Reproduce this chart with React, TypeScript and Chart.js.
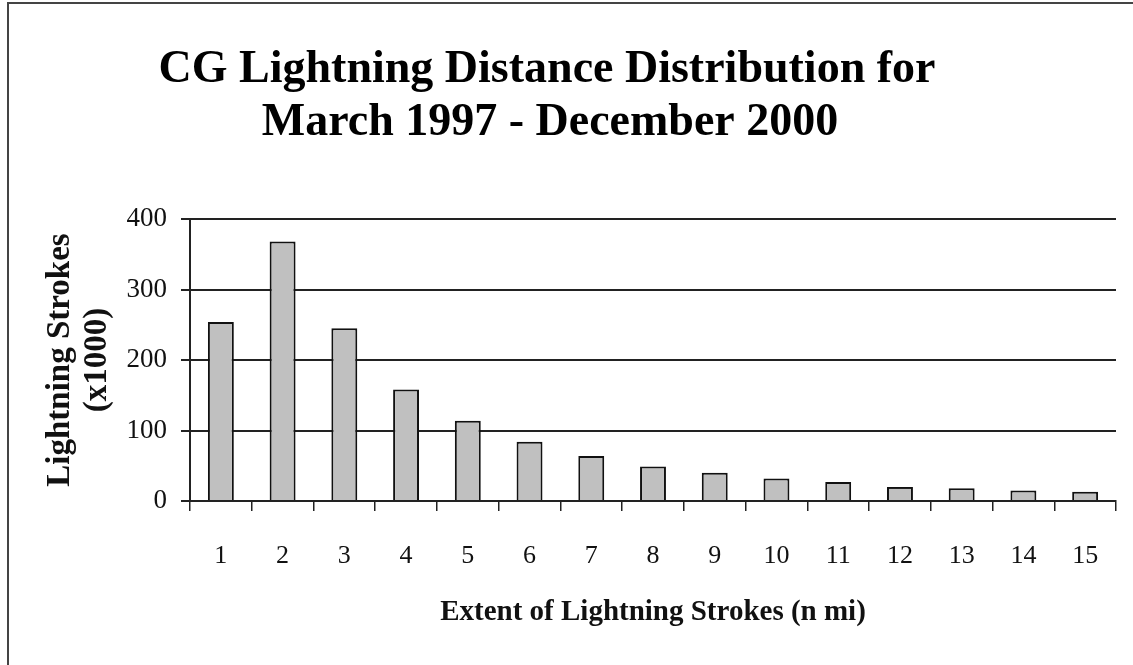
import React, { useEffect, useRef } from "react";
import { Chart, registerables } from "chart.js";

Chart.register(...registerables);

const titleLines = ["CG Lightning Distance Distribution for", "March 1997 - December 2000"];
const categories = ["1", "2", "3", "4", "5", "6", "7", "8", "9", "10", "11", "12", "13", "14", "15"];
const strokes = [254, 368, 245, 158, 114, 84, 64, 49, 40, 32, 27, 20, 18, 15, 13];
const yTitle = ["Lightning Strokes", "(x1000)"];
const xTitle = "Extent of Lightning Strokes (n mi)";

const SERIF = '"Liberation Serif", "Times New Roman", serif';

const titlePlugin = {
  id: "customTitle",
  afterDraw(chart: any) {
    const ctx = chart.ctx;
    ctx.save();
    ctx.fillStyle = "#000";
    ctx.font = `bold 46px ${SERIF}`;
    ctx.textAlign = "center";
    ctx.textBaseline = "alphabetic";
    ctx.fillText(titleLines[0], 547, 82);
    ctx.fillText(titleLines[1], 550, 135);
    ctx.restore();
  },
};

export default function App() {
  const ref = useRef<HTMLCanvasElement | null>(null);
  useEffect(() => {
    if (!ref.current) return;
    const chart = new Chart(ref.current, {
      type: "bar",
      data: {
        labels: categories,
        datasets: [
          {
            data: strokes,
            backgroundColor: "#c0c0c0",
            borderColor: "#111",
            borderWidth: 2,
            barPercentage: 0.42,
            categoryPercentage: 1,
          },
        ],
      },
      options: {
        responsive: false,
        animation: false,
        devicePixelRatio: 1,
        layout: { padding: { left: 0, right: 17, top: 219, bottom: 0 } },
        plugins: {
          legend: { display: false },
          title: { display: false },
          tooltip: { enabled: false },
        },
        scales: {
          x: {
            offset: true,
            afterFit: (s: any) => {
              s.height = 164;
            },
            grid: {
              offset: true,
              drawOnChartArea: false,
              drawTicks: true,
              tickLength: 10,
              color: "#222",
              lineWidth: 1.5,
            },
            border: { display: true, color: "#222", width: 2 },
            ticks: {
              color: "#111",
              font: { family: SERIF, size: 26 },
              padding: 30,
              maxRotation: 0,
              autoSkip: false,
            },
            title: {
              display: true,
              text: xTitle,
              color: "#111",
              font: { family: SERIF, size: 29, weight: "bold" },
              padding: { top: 0, bottom: 35 },
            },
          },
          y: {
            min: 0,
            max: 400,
            afterFit: (s: any) => {
              s.width = 190;
            },
            grid: {
              drawOnChartArea: true,
              drawTicks: true,
              tickLength: 9,
              color: "#222",
              lineWidth: 2,
            },
            border: { display: true, color: "#222", width: 2 },
            ticks: {
              stepSize: 100,
              color: "#111",
              font: { family: SERIF, size: 27 },
              padding: 14,
            },
            title: {
              display: true,
              text: yTitle,
              color: "#111",
              font: { family: SERIF, size: 33, weight: "bold", lineHeight: 1.12 },
              padding: { top: 42, bottom: 0 },
            },
          },
        },
      },
      plugins: [titlePlugin],
    } as any);
    return () => chart.destroy();
  }, []);

  return (
    <div style={{ position: "absolute", left: 0, top: 0, width: 1133, height: 665, background: "#fff" }}>
      <canvas ref={ref} width={1133} height={665} style={{ position: "absolute", left: 0, top: 0 }} />
      <div
        style={{
          position: "absolute",
          left: 7,
          top: 2,
          width: 1126,
          height: 663,
          borderLeft: "2px solid #444",
          borderTop: "2px solid #444",
          boxSizing: "border-box",
          pointerEvents: "none",
        }}
      />
    </div>
  );
}
